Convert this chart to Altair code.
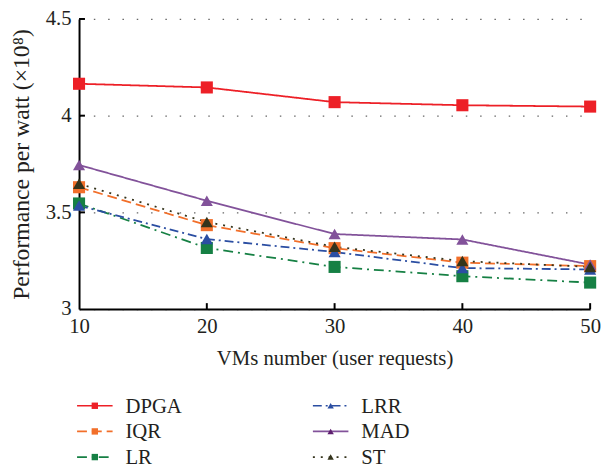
import altair as alt
import pandas as pd

# ---- data ----
vms = [10, 20, 30, 40, 50]
dpga = [4.165, 4.146, 4.070, 4.054, 4.047]
iqr = [3.630, 3.434, 3.315, 3.240, 3.222]
lr = [3.546, 3.316, 3.218, 3.170, 3.137]
lrr = [3.535, 3.362, 3.295, 3.212, 3.205]
mad = [3.745, 3.560, 3.388, 3.360, 3.230]
st = [3.648, 3.450, 3.322, 3.248, 3.218]
y_ticks = [3, 3.5, 4, 4.5]

# drawing order (later on top)
series_data = {"DPGA": dpga, "LR": lr, "IQR": iqr, "LRR": lrr, "MAD": mad, "ST": st}
# legend order (column-wise, 3 rows)
legend_order = ["DPGA", "IQR", "LR", "LRR", "MAD", "ST"]

rows = []
for name, vals in series_data.items():
    for x, v in zip(vms, vals):
        rows.append({"vms": x, "perf": v, "series": name})
df = pd.DataFrame(rows)
xticks_df = pd.DataFrame({"vms": vms[1:]})
yticks_df = pd.DataFrame({"perf": y_ticks[1:]})
legend_df = pd.DataFrame({"series": legend_order,
                          "idx": list(range(len(legend_order)))})
legend_df["lcol"] = legend_df["idx"] // 3
legend_df["lrow"] = legend_df["idx"] % 3

# ---- styles ----
FONT = "Liberation Serif"
TXT = "#231f20"
marker_col = {"DPGA": "#ED2027", "LRR": "#2B4EA2", "IQR": "#F26F2A",
              "MAD": "#5E1F6F", "LR": "#168044", "ST": "#35341C"}
line_col = dict(marker_col)
line_col["MAD"] = "#82529A"
dash = {"DPGA": [1, 0], "LRR": [9, 4, 2, 4], "IQR": [10, 5], "MAD": [1, 0],
        "LR": [10, 5, 2, 5], "ST": [2, 6]}
marker_shape = {"DPGA": "square", "LRR": "triangle-up", "IQR": "square",
                "MAD": "triangle-up", "LR": "square", "ST": "triangle-up"}
LINE_PATH = "M-1,0L1,0"

def rng(d):
    return [d[k] for k in legend_order]

x_scale = alt.Scale(domain=[10, 50], nice=False, zero=False)
y_scale = alt.Scale(domain=[3, 4.5], nice=False, zero=False)

x_enc = alt.X("vms:Q", scale=x_scale,
              axis=alt.Axis(values=vms, title="VMs number (user requests)", grid=False,
                            ticks=False, tickSize=0, domainColor="black", domainWidth=2,
                            labelPadding=7, titlePadding=11, labelFlush=False))
y_enc = alt.Y("perf:Q", scale=y_scale,
              axis=alt.Axis(values=y_ticks, format="~g", title="Performance per watt (×10⁸)",
                            titleFontSize=24,
                            grid=True, gridDash=[1.5, 13], gridColor="#666", gridWidth=1.3,
                            ticks=False, tickSize=0, domainColor="black", domainWidth=2,
                            labelPadding=8, titlePadding=12))

color_line = alt.Color("series:N", scale=alt.Scale(domain=legend_order, range=rng(line_col)), legend=None)
color_mark = alt.Color("series:N", scale=alt.Scale(domain=legend_order, range=rng(marker_col)), legend=None)
dash_enc = alt.StrokeDash("series:N", scale=alt.Scale(domain=legend_order, range=rng(dash)), legend=None)
shape_enc = alt.Shape("series:N", scale=alt.Scale(domain=legend_order, range=rng(marker_shape)), legend=None)

lines = alt.Chart(df).mark_line(strokeWidth=1.8).encode(
    x=x_enc, y=y_enc, color=color_line, strokeDash=dash_enc)

points = alt.Chart(df).mark_point(filled=True, size=150, opacity=1).encode(
    x="vms:Q", y="perf:Q", color=color_mark, shape=shape_enc)

xticks = alt.Chart(xticks_df).mark_rule(color="black", strokeWidth=2).encode(
    x="vms:Q", y=alt.value(294), y2=alt.value(288))
yticks = alt.Chart(yticks_df).mark_rule(color="black", strokeWidth=2).encode(
    y="perf:Q", x=alt.value(0), x2=alt.value(6))

plot = alt.layer(lines, points, xticks, yticks)

# ---- legend (own scales) ----
lx = alt.X("lcol:Q", scale=alt.Scale(domain=[0, 1], range=[16, 255]), axis=None)
ly = alt.Y("lrow:Q", scale=alt.Scale(domain=[0, 2], range=[392, 444]), axis=None)

leg_line = alt.Chart(legend_df).mark_point(filled=False, shape=LINE_PATH, size=1296,
                                           strokeWidth=1.7, opacity=1).encode(
    x=lx, y=ly,
    color=alt.Color("series:N", scale=alt.Scale(domain=legend_order, range=rng(line_col)), legend=None),
    strokeDash=alt.StrokeDash("series:N", scale=alt.Scale(domain=legend_order, range=rng(dash)), legend=None),
)
leg_mark = alt.Chart(legend_df).mark_point(filled=True, size=42, opacity=1).encode(
    x=lx, y=ly,
    color=alt.Color("series:N", scale=alt.Scale(domain=legend_order, range=rng(marker_col)), legend=None),
    shape=alt.Shape("series:N", scale=alt.Scale(domain=legend_order, range=rng(marker_shape)), legend=None),
)
leg_txt = alt.Chart(legend_df).mark_text(align="left", baseline="middle", dx=31, dy=1,
                                         font=FONT, fontSize=21, color=TXT).encode(
    x=lx, y=ly, text="series:N")

legend = alt.layer(leg_line, leg_mark, leg_txt).resolve_scale(
    color="independent", shape="independent", strokeDash="independent")

chart = alt.layer(plot, legend).resolve_scale(
    x="independent", y="independent", shape="independent", strokeDash="independent",
    color="independent"
).properties(
    width=518, height=294,
    padding={"left": 72, "top": 8, "right": 11, "bottom": 162},
    autosize=alt.AutoSizeParams(type="none"),
).configure_view(stroke=None).configure_axis(
    labelFont=FONT, titleFont=FONT, labelFontSize=21, titleFontSize=21,
    labelColor=TXT, titleColor=TXT, titleFontWeight="normal"
)

chart.save("out.html", embed_options={"renderer": "svg", "actions": False})
